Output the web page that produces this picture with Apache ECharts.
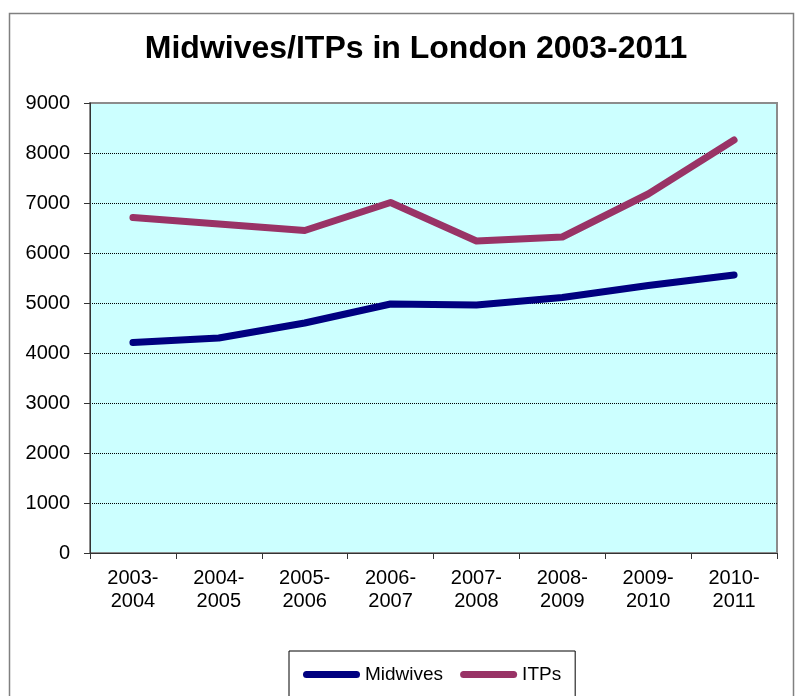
<!DOCTYPE html>
<html>
<head>
<meta charset="utf-8">
<script src="https://cdn.jsdelivr.net/npm/echarts@6/dist/echarts.min.js"></script>
<style>html,body{margin:0;padding:0;background:#fff}#c{width:795px;height:696px}</style>
</head>
<body>
<div id="c"></div>
<script>
const categories = ['2003-\n2004','2004-\n2005','2005-\n2006','2006-\n2007','2007-\n2008','2008-\n2009','2009-\n2010','2010-\n2011'];
const midwives = [4210, 4300, 4600, 4980, 4960, 5110, 5350, 5560];
const itps = [6710, 6580, 6450, 7010, 6240, 6320, 7180, 8260];
const yTicks = { min: 0, max: 9000, interval: 1000 };

const chart = echarts.init(document.getElementById('c'), null, {renderer: 'canvas'});
const font = '"Liberation Sans", Arial, sans-serif';
const pill = 'path://M3.5,0 L53.5,0 A3.5,3.5 0 0 1 53.5,7 L3.5,7 A3.5,3.5 0 0 1 3.5,0 Z';
chart.setOption({
  animation: false,
  title: {
    text: 'Midwives/ITPs in London 2003-2011',
    left: 411, top: 28, textAlign: 'center',
    textStyle: { fontFamily: font, fontSize: 32, fontWeight: 'bold', color: '#000' }
  },
  graphic: [{
    type: 'rect', z: -10,
    shape: { x: 9.5, y: 13.5, width: 784, height: 720 },
    style: { fill: 'none', stroke: '#808080', lineWidth: 1.5 }
  }],
  grid: {
    left: 90, top: 103, width: 687, height: 450,
    show: true, backgroundColor: '#CCFFFF', borderColor: '#8c8c8c', borderWidth: 2
  },
  legend: {
    left: 289, top: 651,
    padding: [14, 14, 14, 14],
    itemGap: 17, itemWidth: 57, itemHeight: 7,
    borderColor: '#000', borderWidth: 1, backgroundColor: '#fff',
    textStyle: { fontFamily: font, fontSize: 19, color: '#000' },
    data: [
      { name: 'Midwives', icon: pill, itemStyle: { color: '#000080' } },
      { name: 'ITPs', icon: pill, itemStyle: { color: '#993366' } }
    ]
  },
  xAxis: {
    type: 'category', data: categories, boundaryGap: true,
    axisLine: { lineStyle: { color: '#333', width: 1 } },
    axisTick: { show: true, length: 6, lineStyle: { color: '#333' } },
    axisLabel: { fontFamily: font, fontSize: 20, color: '#000', lineHeight: 23, margin: 14, interval: 0 },
    splitLine: { show: false }
  },
  yAxis: {
    type: 'value', min: yTicks.min, max: yTicks.max, interval: yTicks.interval,
    axisLine: { show: true, lineStyle: { color: '#333', width: 1 } },
    axisTick: { show: true, length: 6, lineStyle: { color: '#333' } },
    axisLabel: { fontFamily: font, fontSize: 20, color: '#000', margin: 20, formatter: v => String(v) },
    splitLine: { show: true, showMaxLine: false, showMinLine: false, lineStyle: { color: '#000', type: [1, 1], width: 1 } }
  },
  series: [
    { name: 'Midwives', type: 'line', data: midwives, symbol: 'none',
      lineStyle: { color: '#000080', width: 7, cap: 'round', join: 'round' },
      itemStyle: { color: '#000080' } },
    { name: 'ITPs', type: 'line', data: itps, symbol: 'none',
      lineStyle: { color: '#993366', width: 7, cap: 'round', join: 'round' },
      itemStyle: { color: '#993366' } }
  ]
});
</script>
</body>
</html>
